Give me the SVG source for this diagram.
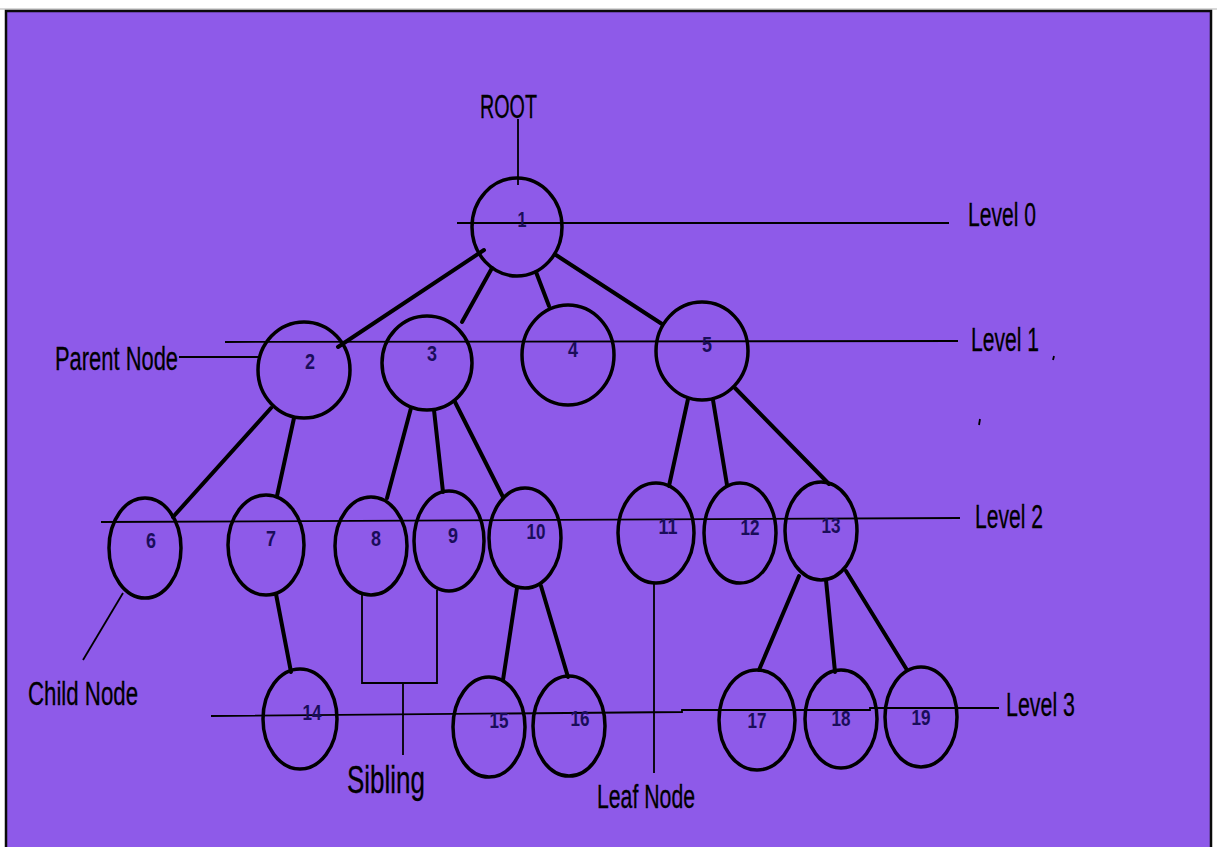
<svg xmlns="http://www.w3.org/2000/svg" width="1217" height="847" viewBox="0 0 1217 847">
<style>
.bg{fill:#8e5ae9;stroke:#0a0a0a;stroke-width:2.5}
.node{fill:none;stroke:#000;stroke-width:3.5}
.num{font-family:"Liberation Sans",Arial,sans-serif;font-weight:bold;font-size:22px;fill:#1a0d5a;text-anchor:middle}
.lbl{font-family:"Liberation Sans",Arial,sans-serif;font-size:34px;fill:#000;stroke:#000;stroke-width:0.3}
.edge{stroke:#000;stroke-width:4;stroke-linecap:round;fill:none}
.thin{stroke:#000;stroke-width:1.8;fill:none}
</style>
<rect x="0" y="0" width="1217" height="847" fill="#ffffff"/>
<line x1="0" y1="9" x2="1217" y2="9" stroke="#b0b0b0" stroke-width="1"/>
<path class="bg" d="M6,860 L6,11 L1211,11 L1211,860 Z"/>

<g id="annotations">
<line class="thin" x1="518" y1="119" x2="518" y2="185"/>
<line class="thin" x1="457" y1="223" x2="949" y2="223"/>
<line class="thin" x1="225" y1="342" x2="958" y2="341"/>
<line class="thin" x1="179" y1="357" x2="258" y2="357"/>
<line class="thin" x1="101" y1="522" x2="960" y2="518"/>
<line class="thin" x1="123" y1="593" x2="83" y2="660"/>
<polyline class="thin" points="362,595 362,683 437,683 437,590"/>
<line class="thin" x1="403" y1="683" x2="403" y2="755"/>
<line class="thin" x1="654" y1="583" x2="654" y2="773"/>
<polyline class="thin" points="211,716 682,712 682,710 870,710 870,708 999,708"/>
<line class="thin" x1="1054" y1="356" x2="1053" y2="360"/>
<line class="thin" x1="980" y1="419" x2="979" y2="425"/>
<text class="lbl" x="480" y="118" textLength="57" lengthAdjust="spacingAndGlyphs">ROOT</text>
<text class="lbl" x="968" y="226" textLength="68" lengthAdjust="spacingAndGlyphs">Level 0</text>
<text class="lbl" x="971" y="351" textLength="68" lengthAdjust="spacingAndGlyphs">Level 1</text>
<text class="lbl" x="975" y="528" textLength="68" lengthAdjust="spacingAndGlyphs">Level 2</text>
<text class="lbl" x="1006" y="716" textLength="69" lengthAdjust="spacingAndGlyphs">Level 3</text>
<text class="lbl" x="55" y="370" textLength="123" lengthAdjust="spacingAndGlyphs">Parent Node</text>
<text class="lbl" x="28" y="705" textLength="110" lengthAdjust="spacingAndGlyphs">Child Node</text>
<text class="lbl" x="347" y="793" style="font-size:38px" textLength="78" lengthAdjust="spacingAndGlyphs">Sibling</text>
<text class="lbl" x="597" y="808" textLength="98" lengthAdjust="spacingAndGlyphs">Leaf Node</text>
</g>

<g id="connectors">
<line class="edge" x1="484" y1="250" x2="338" y2="347"/>
<line class="edge" x1="492" y1="268" x2="462" y2="322"/>
<line class="edge" x1="536" y1="272" x2="549" y2="306"/>
<line class="edge" x1="556" y1="255" x2="662" y2="324"/>
<line class="edge" x1="271" y1="408" x2="173" y2="517"/>
<line class="edge" x1="294" y1="418" x2="277" y2="496"/>
<line class="edge" x1="411" y1="408" x2="387" y2="498"/>
<line class="edge" x1="434" y1="410" x2="443" y2="492"/>
<line class="edge" x1="455" y1="402" x2="503" y2="497"/>
<line class="edge" x1="688" y1="399" x2="669" y2="486"/>
<line class="edge" x1="713" y1="400" x2="727" y2="485"/>
<line class="edge" x1="735" y1="388" x2="829" y2="484"/>
<line class="edge" x1="276" y1="594" x2="291" y2="672"/>
<line class="edge" x1="517" y1="588" x2="503" y2="680"/>
<line class="edge" x1="541" y1="586" x2="568" y2="677"/>
<line class="edge" x1="799" y1="576" x2="759" y2="670"/>
<line class="edge" x1="826" y1="580" x2="835" y2="672"/>
<line class="edge" x1="846" y1="571" x2="907" y2="670"/>
</g>

<g id="n1"><ellipse class="node" cx="517" cy="227" rx="45" ry="49"/><text class="num" x="522" y="227" textLength="9" lengthAdjust="spacingAndGlyphs">1</text></g>
<g id="n2"><ellipse class="node" cx="304" cy="370" rx="46" ry="48"/><text class="num" x="310" y="369" textLength="10" lengthAdjust="spacingAndGlyphs">2</text></g>
<g id="n3"><ellipse class="node" cx="427" cy="363" rx="45" ry="47"/><text class="num" x="432" y="361" textLength="10" lengthAdjust="spacingAndGlyphs">3</text></g>
<g id="n4"><ellipse class="node" cx="568" cy="355" rx="46" ry="50"/><text class="num" x="573" y="357" textLength="10" lengthAdjust="spacingAndGlyphs">4</text></g>
<g id="n5"><ellipse class="node" cx="702" cy="351" rx="46" ry="49"/><text class="num" x="707" y="352" textLength="10" lengthAdjust="spacingAndGlyphs">5</text></g>
<g id="n6"><ellipse class="node" cx="145" cy="548" rx="36" ry="50"/><text class="num" x="151" y="548" textLength="10" lengthAdjust="spacingAndGlyphs">6</text></g>
<g id="n7"><ellipse class="node" cx="266" cy="545" rx="38" ry="50"/><text class="num" x="271" y="546" textLength="10" lengthAdjust="spacingAndGlyphs">7</text></g>
<g id="n8"><ellipse class="node" cx="371" cy="546" rx="36" ry="49"/><text class="num" x="376" y="546" textLength="10" lengthAdjust="spacingAndGlyphs">8</text></g>
<g id="n9"><ellipse class="node" cx="449" cy="541" rx="35" ry="50"/><text class="num" x="453" y="543" textLength="10" lengthAdjust="spacingAndGlyphs">9</text></g>
<g id="n10"><ellipse class="node" cx="525" cy="538" rx="36" ry="50"/><text class="num" x="536" y="539" textLength="19" lengthAdjust="spacingAndGlyphs">10</text></g>
<g id="n11"><ellipse class="node" cx="656" cy="533" rx="38" ry="50"/><text class="num" x="668" y="534" textLength="19" lengthAdjust="spacingAndGlyphs">11</text></g>
<g id="n12"><ellipse class="node" cx="740" cy="533" rx="36" ry="50"/><text class="num" x="750" y="535" textLength="19" lengthAdjust="spacingAndGlyphs">12</text></g>
<g id="n13"><ellipse class="node" cx="821" cy="531" rx="36" ry="49"/><text class="num" x="831" y="533" textLength="19" lengthAdjust="spacingAndGlyphs">13</text></g>
<g id="n14"><ellipse class="node" cx="300" cy="719" rx="37" ry="50"/><text class="num" x="312" y="720" textLength="19" lengthAdjust="spacingAndGlyphs">14</text></g>
<g id="n15"><ellipse class="node" cx="489" cy="727" rx="36" ry="50"/><text class="num" x="499" y="728" textLength="19" lengthAdjust="spacingAndGlyphs">15</text></g>
<g id="n16"><ellipse class="node" cx="569" cy="726" rx="36" ry="50"/><text class="num" x="580" y="726" textLength="19" lengthAdjust="spacingAndGlyphs">16</text></g>
<g id="n17"><ellipse class="node" cx="757" cy="720" rx="38" ry="50"/><text class="num" x="757" y="728" textLength="19" lengthAdjust="spacingAndGlyphs">17</text></g>
<g id="n18"><ellipse class="node" cx="841" cy="719" rx="36" ry="49"/><text class="num" x="841" y="726" textLength="19" lengthAdjust="spacingAndGlyphs">18</text></g>
<g id="n19"><ellipse class="node" cx="921" cy="717" rx="36" ry="50"/><text class="num" x="921" y="725" textLength="19" lengthAdjust="spacingAndGlyphs">19</text></g>
</svg>
